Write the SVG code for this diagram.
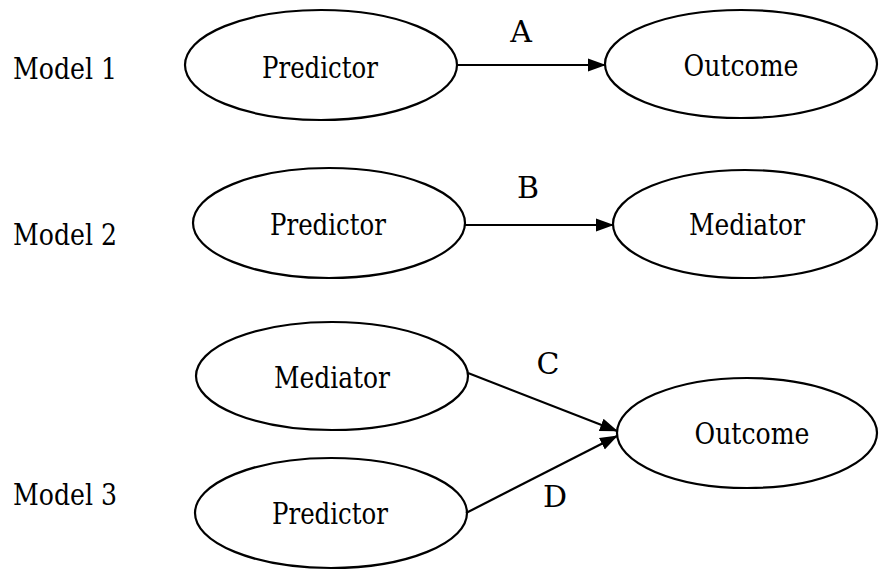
<svg xmlns="http://www.w3.org/2000/svg" width="879" height="570" viewBox="0 0 879 570">
  <style>
    .node ellipse { fill: #ffffff; stroke: #000000; stroke-width: 2.2; }
    text { font-family: 'DejaVu Serif', serif; font-size: 30px; fill: #000000; }
    .label { text-anchor: middle; }
    .edge { stroke: #000000; stroke-width: 2.2; fill: none; marker-end: url(#arrow); }
  </style>
  <defs>
    <marker id="arrow" markerWidth="18" markerHeight="15" refX="17" refY="7.5" orient="auto" markerUnits="userSpaceOnUse">
      <path d="M0,1 L18,7.5 L0,14 Z" fill="#000000"/>
    </marker>
  </defs>
  <rect width="879" height="570" fill="#ffffff"/>

  <!-- row titles -->
  <text x="13" y="79" textLength="104" lengthAdjust="spacingAndGlyphs">Model 1</text>
  <text x="13" y="245" textLength="104" lengthAdjust="spacingAndGlyphs">Model 2</text>
  <text x="13" y="505" textLength="104" lengthAdjust="spacingAndGlyphs">Model 3</text>

  <!-- Model 1 -->
  <g id="m1-predictor" class="node">
    <ellipse cx="321" cy="65" rx="136" ry="55"/>
    <text class="label" x="320" y="78" textLength="116" lengthAdjust="spacingAndGlyphs">Predictor</text>
  </g>
  <g id="m1-outcome" class="node">
    <ellipse cx="741" cy="64" rx="136" ry="54"/>
    <text class="label" x="741" y="76" textLength="115" lengthAdjust="spacingAndGlyphs">Outcome</text>
  </g>

  <!-- Model 2 -->
  <g id="m2-predictor" class="node">
    <ellipse cx="329" cy="223" rx="136" ry="55"/>
    <text class="label" x="328" y="235" textLength="116" lengthAdjust="spacingAndGlyphs">Predictor</text>
  </g>
  <g id="m2-mediator" class="node">
    <ellipse cx="745" cy="224" rx="132" ry="54"/>
    <text class="label" x="747" y="235" textLength="116" lengthAdjust="spacingAndGlyphs">Mediator</text>
  </g>

  <!-- Model 3 -->
  <g id="m3-mediator" class="node">
    <ellipse cx="332" cy="376" rx="136" ry="54"/>
    <text class="label" x="332" y="388" textLength="116" lengthAdjust="spacingAndGlyphs">Mediator</text>
  </g>
  <g id="m3-predictor" class="node">
    <ellipse cx="331" cy="513" rx="136" ry="55"/>
    <text class="label" x="330" y="524" textLength="116" lengthAdjust="spacingAndGlyphs">Predictor</text>
  </g>
  <g id="m3-outcome" class="node">
    <ellipse cx="747" cy="433" rx="130" ry="55"/>
    <text class="label" x="752" y="444" textLength="115" lengthAdjust="spacingAndGlyphs">Outcome</text>
  </g>

  <!-- connectors -->
  <g id="connectors">
    <line class="edge" x1="457" y1="65" x2="605" y2="65"/>
    <text class="label" x="521" y="42">A</text>
    <line class="edge" x1="465" y1="225" x2="613" y2="225"/>
    <text class="label" x="528" y="198">B</text>
    <line class="edge" x1="468" y1="373" x2="617" y2="431"/>
    <text class="label" x="548" y="374">C</text>
    <line class="edge" x1="466" y1="513" x2="617" y2="436"/>
    <text class="label" x="555" y="507">D</text>
  </g>
</svg>
